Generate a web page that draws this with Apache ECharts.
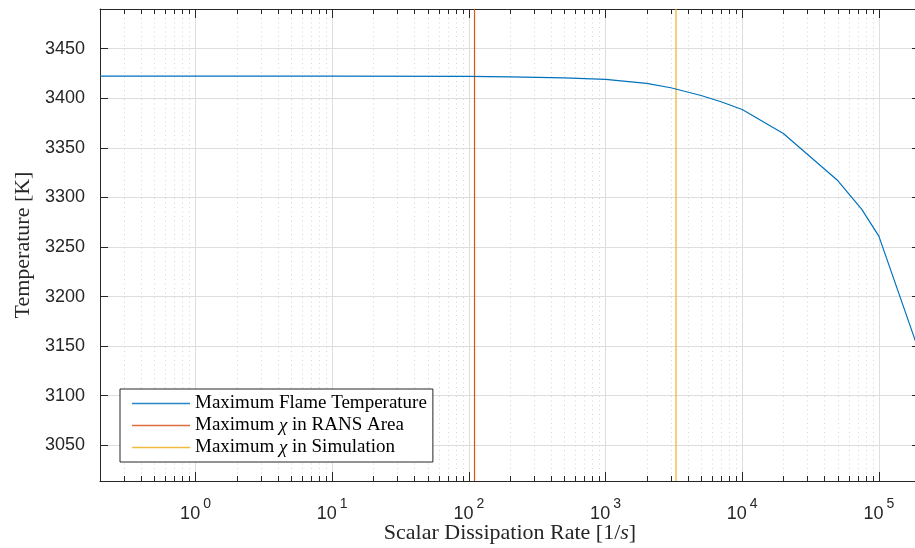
<!DOCTYPE html>
<html>
<head>
<meta charset="utf-8">
<script src="https://cdn.jsdelivr.net/npm/echarts@6/dist/echarts.min.js"></script>
<style>
  html, body { margin: 0; padding: 0; background: #fff; }
  #chart { width: 915px; height: 548px; }
</style>
</head>
<body>
<div id="chart"></div>
<script>
// scalar dissipation rate [1/s] and max flame temperature [K]
const chiValues = [0.2, 1, 10, 100, 200, 500, 1000, 2000, 3000, 5000, 7000, 10000, 20000, 50000, 75000, 100000, 200000];
const tempValues = [3422.4, 3422.4, 3422.4, 3422.0, 3421.6, 3420.6, 3419.0, 3415.0, 3410.6, 3402.8, 3396.5, 3388.7, 3364.4, 3317.0, 3288.0, 3261.0, 3142.0];

// vertical markers
const chiRANS = 110;
const chiSim = 3280;

// axes
const xMin = 0.2, xMax = 2e5;
const yMin = 3014, yMax = 3490;
const yTicks = [3050, 3100, 3150, 3200, 3250, 3300, 3350, 3400, 3450];

const seriesNames = ['Maximum Flame Temperature', 'Maximum χ in RANS Area', 'Maximum χ in Simulation'];
const colors = ['#0072BD', '#D95319', '#EDB120'];

const axisColor = '#262626';
const serif = 'Liberation Serif';
const sans = 'Liberation Sans';

// minor log positions 2..9 per decade (grid lines only)
const minorTicks = [];
for (let k = -1; k <= 5; k++) {
  for (let m = 2; m <= 9; m++) {
    const v = m * Math.pow(10, k);
    if (v > xMin && v < xMax) minorTicks.push([v, yMin]);
  }
}

const chart = echarts.init(document.getElementById('chart'));

const option = {
  animation: false,
  backgroundColor: '#fff',
  // plot box runs a few px past the right edge, like the cropped original
  grid: { left: 100, top: 9, width: 820, height: 472, containLabel: false, outerBoundsMode: 'none' },
  xAxis: [
    {
      type: 'log', logBase: 10, min: xMin, max: xMax,
      position: 'bottom',
      name: 'Scalar Dissipation Rate [1/{i|s}]',
      nameLocation: 'middle', nameGap: 41, nameMoveOverlap: false,
      nameTextStyle: {
        fontFamily: serif, fontSize: 22, color: axisColor,
        rich: { i: { fontFamily: serif, fontSize: 22, fontStyle: 'italic', color: axisColor } }
      },
      axisLine: { show: true, lineStyle: { color: axisColor, width: 1 } },
      axisTick: { show: true, inside: true, length: 9, lineStyle: { color: axisColor } },
      axisLabel: {
        margin: 16, showMinLabel: false, showMaxLabel: false,
        formatter: (v) => '{b|10}{s|' + Math.round(Math.log10(v)) + '}',
        rich: {
          b: { fontFamily: sans, fontSize: 18, color: axisColor, lineHeight: 26, verticalAlign: 'bottom' },
          s: { fontFamily: sans, fontSize: 14, color: axisColor, lineHeight: 12, verticalAlign: 'top', padding: [0, 0, 0, 3] }
        }
      },
      splitLine: { show: true, lineStyle: { color: '#dedede', width: 1 } }
    },
    {
      type: 'log', logBase: 10, min: xMin, max: xMax,
      position: 'top',
      axisLine: { show: true, lineStyle: { color: axisColor, width: 1 } },
      axisTick: { show: true, inside: true, length: 9, lineStyle: { color: axisColor } },
      axisLabel: { show: false },
      splitLine: { show: false }
    }
  ],
  yAxis: [
    {
      type: 'value', min: yMin, max: yMax, splitNumber: 10,
      position: 'left',
      name: 'Temperature [K]',
      nameLocation: 'middle', nameGap: 61, nameRotate: 90,
      nameTextStyle: { fontFamily: serif, fontSize: 22, color: axisColor },
      axisLine: { show: true, lineStyle: { color: axisColor, width: 1 } },
      axisTick: { show: true, inside: true, length: 8, customValues: yTicks, lineStyle: { color: axisColor } },
      axisLabel: {
        margin: 15, customValues: yTicks,
        formatter: (v) => String(v),
        fontFamily: sans, fontSize: 18, color: axisColor
      },
      splitLine: { show: true, lineStyle: { color: '#dedede', width: 1 } }
    },
    {
      type: 'value', min: yMin, max: yMax, splitNumber: 10,
      position: 'right',
      axisLine: { show: true, lineStyle: { color: axisColor, width: 1 } },
      axisTick: { show: true, inside: true, length: 8, customValues: yTicks, lineStyle: { color: axisColor } },
      axisLabel: { show: false },
      splitLine: { show: false }
    }
  ],
  legend: {
    orient: 'vertical',
    left: 120, top: 389,
    icon: 'rect',
    itemWidth: 58, itemHeight: 1.5, itemGap: 3,
    padding: [5, 6, 5, 12],
    backgroundColor: '#fff',
    borderColor: axisColor, borderWidth: 1, borderRadius: 0,
    data: seriesNames.map((n, i) => ({
      name: n,
      itemStyle: { color: colors[i], borderWidth: 0, opacity: 0.85 }
    })),
    formatter: (name) => name.replace('χ', '{i|χ}'),
    textStyle: {
      fontFamily: serif, fontSize: 19, color: '#000',
      rich: { i: { fontFamily: serif, fontSize: 19, fontStyle: 'italic', color: '#000' } }
    }
  },
  series: [
    {
      type: 'custom',
      silent: true,
      z: 1,
      xAxisIndex: 0, yAxisIndex: 0,
      encode: { x: 0, y: 1 },
      data: minorTicks,
      renderItem: (params, api) => {
        const x = Math.round(api.coord([api.value(0), yMin])[0]) + 0.5;
        const top = params.coordSys.y;
        const bottom = top + params.coordSys.height;
        return {
          type: 'group',
          children: [
            { type: 'line', shape: { x1: x, y1: top, x2: x, y2: bottom },
              style: { stroke: '#d4d4d4', lineWidth: 1, lineDash: [1, 3.5] } },
            { type: 'line', shape: { x1: x, y1: bottom, x2: x, y2: bottom - 5 },
              style: { stroke: axisColor, lineWidth: 1 } },
            { type: 'line', shape: { x1: x, y1: top, x2: x, y2: top + 5 },
              style: { stroke: axisColor, lineWidth: 1 } }
          ]
        };
      }
    },
    {
      name: seriesNames[0],
      type: 'line',
      z: 4,
      symbol: 'none',
      color: colors[0],
      lineStyle: { color: colors[0], width: 1.2 },
      data: chiValues.map((x, i) => [x, tempValues[i]])
    },
    {
      name: seriesNames[1],
      type: 'line',
      z: 3,
      symbol: 'none',
      color: colors[1],
      lineStyle: { color: colors[1], width: 1.2 },
      data: [[chiRANS, yMin], [chiRANS, yMax]]
    },
    {
      name: seriesNames[2],
      type: 'line',
      z: 3,
      symbol: 'none',
      color: colors[2],
      lineStyle: { color: colors[2], width: 1.2 },
      data: [[chiSim, yMin], [chiSim, yMax]]
    }
  ]
};

chart.setOption(option);
</script>
</body>
</html>
